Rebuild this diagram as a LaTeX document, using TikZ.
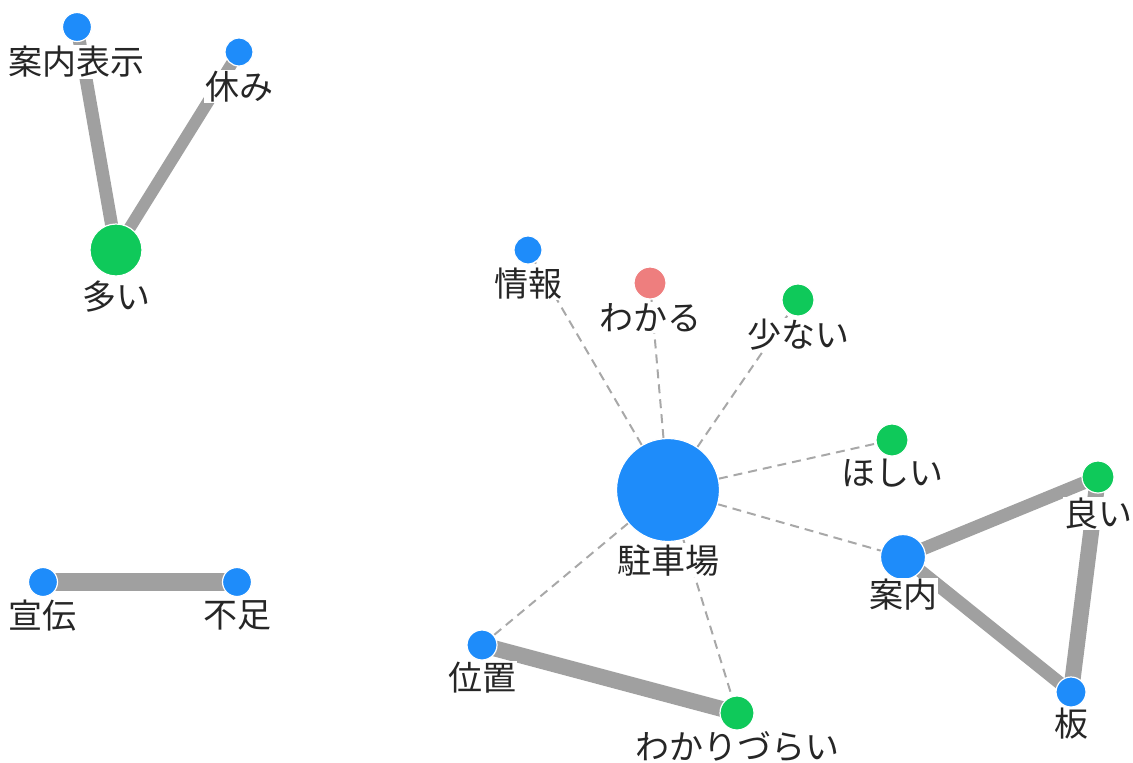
\documentclass[tikz,border=0pt]{standalone}
\usepackage{fontspec}
\setmainfont{Noto Sans CJK JP}
\definecolor{nblue}{HTML}{1E8CFA}
\definecolor{ngreen}{HTML}{0FC95A}
\definecolor{nred}{HTML}{EE7E7E}
\definecolor{egray}{HTML}{A0A0A0}
\definecolor{dgray}{HTML}{A8A8A8}
\tikzset{
  nd/.style={circle, draw=white, line width=1.2pt, inner sep=0pt, minimum size=#1},
  bl/.style={nd=#1, fill=nblue},
  gr/.style={nd=#1, fill=ngreen},
  rd/.style={nd=#1, fill=nred},
  lab/.style={fill=white, inner sep=1pt, text=black!85, font=\fontsize{34}{34}\selectfont},
  strong/.style={draw=egray, line width=#1},
  weak/.style={draw=dgray, line width=2pt, dash pattern=on 9pt off 6pt},
}
\begin{document}
\begin{tikzpicture}[x=1pt,y=-1pt]
\useasboundingbox (0,0) rectangle (1133,763);
% nodes
\node[bl=29pt] (annaihyouji) at (77,27) {};
\node[bl=28pt] (yasumi) at (239,52) {};
\node[gr=52pt] (ooi) at (116,250) {};
\node[bl=29pt] (senden) at (43,582) {};
\node[bl=29pt] (fusoku) at (237,582) {};
\node[bl=28pt] (jouhou) at (528,250) {};
\node[rd=32pt] (wakaru) at (650,283) {};
\node[gr=32pt] (sukunai) at (798,300) {};
\node[bl=103pt] (chusha) at (668,490) {};
\node[gr=32pt] (hoshii) at (892,440) {};
\node[gr=32pt] (yoi) at (1098,477) {};
\node[bl=45pt] (annai) at (903,557) {};
\node[bl=30pt] (ita) at (1071,692) {};
\node[bl=30pt] (ichi) at (482,645) {};
\node[gr=34pt] (wakaridurai) at (737,713) {};
% edges
\draw[strong=13pt] (annaihyouji.center) -- (ooi.center);
\draw[strong=12pt] (yasumi.center) -- (ooi.center);
\draw[strong=18pt] (senden.center) -- (fusoku.center);
\draw[strong=16pt] (ichi.center) -- (wakaridurai.center);
\draw[strong=13pt] (annai.center) -- (yoi.center);
\draw[strong=13pt] (annai.center) -- (ita.center);
\draw[strong=16pt] (yoi.center) -- (ita.center);
\draw[weak] (chusha) -- (jouhou);
\draw[weak] (chusha) -- (wakaru);
\draw[weak] (chusha) -- (sukunai);
\draw[weak] (chusha) -- (hoshii);
\draw[weak] (chusha) -- (annai);
\draw[weak] (chusha) -- (ichi);
\draw[weak] (chusha) -- (wakaridurai);
% redraw circles on top of edges
\foreach \n/\s/\c in {annaihyouji/29/nblue, yasumi/28/nblue, ooi/52/ngreen, senden/29/nblue, fusoku/29/nblue, jouhou/28/nblue, wakaru/32/nred, sukunai/32/ngreen, chusha/103/nblue, hoshii/32/ngreen, yoi/32/ngreen, annai/45/nblue, ita/30/nblue, ichi/30/nblue, wakaridurai/34/ngreen}
  \fill[\c, draw=white, line width=1.2pt] (\n.center) circle (\s/2);
% labels
\node[lab] (l1) at ([yshift=-20pt]annaihyouji.south) {案内表示};
\node[lab] (l2) at ([yshift=-20pt]yasumi.south) {休み};
\node[lab] (l3) at ([yshift=-20pt]ooi.south) {多い};
\node[lab] (l4) at ([yshift=-18pt]senden.south) {宣伝};
\node[lab] (l5) at ([yshift=-18pt]fusoku.south) {不足};
\node[lab] (l6) at ([yshift=-19pt]jouhou.south) {情報};
\node[lab] (l7) at ([yshift=-18pt]wakaru.south) {わかる};
\node[lab] (l8) at ([yshift=-18pt]sukunai.south) {少ない};
\node[lab] (l9) at ([yshift=-18pt]chusha.south) {駐車場};
\node[lab] (l10) at ([yshift=-17pt]hoshii.south) {ほしい};
\node[lab] (l11) at ([yshift=-20pt]yoi.south) {良い};
\node[lab] (l12) at ([yshift=-15pt]annai.south) {案内};
\node[lab] (l13) at ([yshift=-16pt]ita.south) {板};
\node[lab] (l14) at ([yshift=-17pt]ichi.south) {位置};
\node[lab] (l15) at ([yshift=-16pt]wakaridurai.south) {わかりづらい};
\end{tikzpicture}
\end{document}
